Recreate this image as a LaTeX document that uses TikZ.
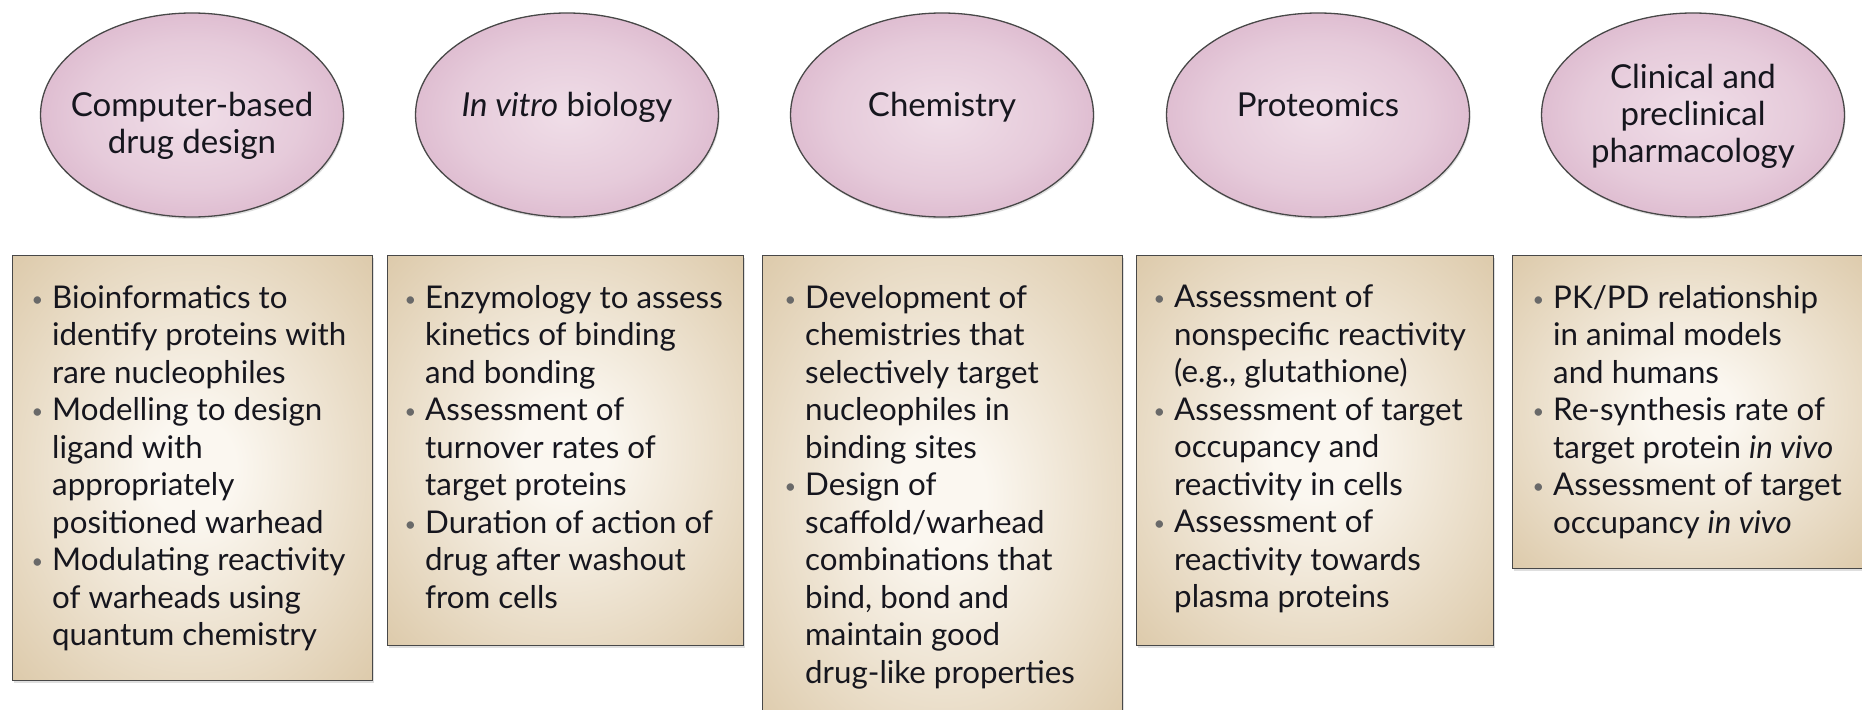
\documentclass[tikz,border=0pt]{standalone}
\usepackage{fontspec}
\setmainfont{Lato}
\usetikzlibrary{shapes.geometric,shadows}
\definecolor{boxin}{RGB}{251,247,240}
\definecolor{boxout}{RGB}{210,186,146}
\definecolor{ellin}{RGB}{240,222,232}
\definecolor{ellout}{RGB}{199,144,177}
\definecolor{txt}{RGB}{22,22,30}
\definecolor{bulgrey}{RGB}{105,105,105}
\definecolor{edgegrey}{RGB}{72,72,72}
\pgfdeclareradialshading{boxshade}{\pgfpoint{0bp}{0bp}}{color(0bp)=(boxin); color(6bp)=(boxin); color(46bp)=(boxout); color(50bp)=(boxout)}
\pgfdeclareradialshading{ellshade}{\pgfpoint{0bp}{0bp}}{color(0bp)=(ellin); color(18bp)=(ellin!75!ellout); color(50bp)=(ellout)}
\newcommand\bul{\makebox[0pt][r]{\textcolor{bulgrey}{\fontsize{20pt}{20pt}\selectfont\raisebox{2pt}{•}}\hspace{9pt}}}
\tikzset{
  topic/.style={ellipse, draw=edgegrey, line width=1.3pt, shading=ellshade,
    minimum width=303pt, minimum height=204pt, inner sep=0pt,
    drop shadow={opacity=0.25, shadow xshift=1pt, shadow yshift=-2pt}},
  topictext/.style={inner sep=0pt, align=center, text=txt,
    font=\fontsize{33pt}{37pt}\selectfont},
  oneline/.style={topictext, text height=24pt, text depth=7pt},
  panel/.style={rectangle, draw=edgegrey, line width=1.3pt, shading=boxshade,
    inner sep=0pt, anchor=north west,
    drop shadow={opacity=0.25, shadow xshift=1pt, shadow yshift=-2pt}},
  items/.style={anchor=north west, inner sep=0pt, align=left, text=txt,
    font=\fontsize{31.3pt}{37.5pt}\selectfont},
}
\begin{document}
\begin{tikzpicture}[x=1pt,y=-1pt]
\useasboundingbox (0,0) rectangle (1862,709);
\clip (0,0) rectangle (1862,709);
% topics
\node[topic] (e1) at (192,115) {};
\node[topic] (e2) at (567,115) {};
\node[topic] (e3) at (942,115) {};
\node[topic] (e4) at (1318,115) {};
\node[topic] (e5) at (1693,115) {};
\node[topictext] (l1) at (192,126) {Computer-based\\drug design};
\node[oneline] (l2) at (567,107.5) {\textit{In vitro} biology};
\node[oneline] (l3) at (942,107.5) {Chemistry};
\node[oneline] (l4) at (1318,107.5) {Proteomics};
\node[topictext] (l5) at (1693,116) {Clinical and\\preclinical\\pharmacology};
% panels
\node[panel, minimum width=360pt, minimum height=425pt] (b1) at (12,255) {};
\node[panel, minimum width=356pt, minimum height=390pt] (b2) at (387,255) {};
\node[panel, minimum width=360pt, minimum height=480pt] (b3) at (762,255) {};
\node[panel, minimum width=357pt, minimum height=390pt] (b4) at (1136,255) {};
\node[panel, minimum width=356pt, minimum height=313pt] (b5) at (1512,255) {};
% texts
\node[items] (t1) at ([xshift=40pt,yshift=-30pt]b1.north west) {\bul Bioinformatics to\\identify proteins with\\rare nucleophiles\\\bul Modelling to design\\ligand with\\appropriately\\positioned warhead\\\bul Modulating reactivity\\of warheads using\\quantum chemistry};
\node[items] (t2) at ([xshift=38pt,yshift=-30pt]b2.north west) {\bul Enzymology to assess\\kinetics of binding\\and bonding\\\bul Assessment of\\turnover rates of\\target proteins\\\bul Duration of action of\\drug after washout\\from cells};
\node[items] (t3) at ([xshift=43pt,yshift=-30pt]b3.north west) {\bul Development of\\chemistries that\\selectively target\\nucleophiles in\\binding sites\\\bul Design of\\scaffold/warhead\\combinations that\\bind, bond and\\maintain good\\drug-like properties};
\node[items] (t4) at ([xshift=38pt,yshift=-30pt]b4.north west) {\bul Assessment of\\nonspecific reactivity\\(e.g., glutathione)\\\bul Assessment of target\\occupancy and\\reactivity in cells\\\bul Assessment of\\reactivity towards\\plasma proteins};
\node[items] (t5) at ([xshift=41pt,yshift=-30pt]b5.north west) {\bul PK/PD relationship\\in animal models\\and humans\\\bul Re-synthesis rate of\\target protein \textit{in vivo}\\\bul Assessment of target\\occupancy \textit{in vivo}};
\end{tikzpicture}
\end{document}
